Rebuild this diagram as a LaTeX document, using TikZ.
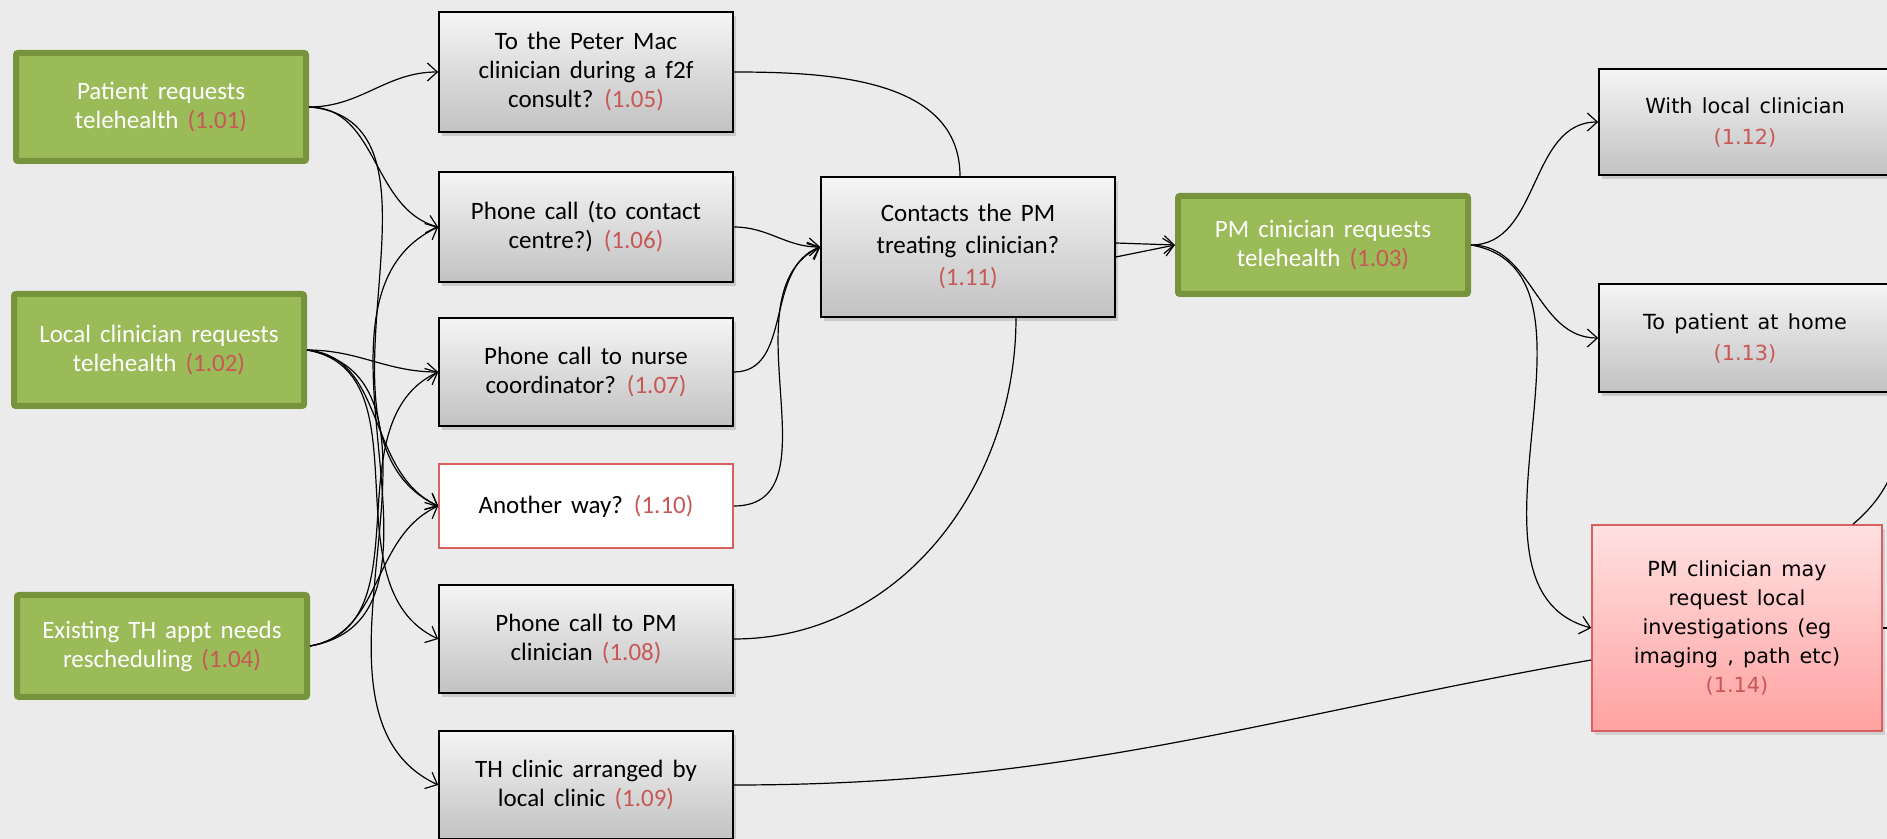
\documentclass[tikz,border=0pt]{standalone}
\usepackage{fontspec}
\setmainfont{Carlito}[WordSpace=1.6]
\newfontfamily\verdfont{DejaVu Sans}[WordSpace=1.4]
\usetikzlibrary{arrows.meta,shadows}

\definecolor{bggrey}{HTML}{EBEBEB}
\definecolor{thgreen}{HTML}{9BBB59}
\definecolor{thborder}{HTML}{77933C}
\definecolor{codered}{HTML}{C65856}
\definecolor{pinktop}{HTML}{FFE1E1}
\definecolor{pinkbot}{HTML}{FFA1A1}
\definecolor{pinkline}{HTML}{D9605E}

\newcommand{\refno}[1]{{\color{codered}#1}}

\tikzset{
	box/.style={rectangle, align=center, inner sep=2pt, font=\fontsize{12.5}{14.5}\selectfont},
	greenbox/.style={box, minimum width=145pt, fill=thgreen, draw=thborder, line width=3pt, text=white, rounded corners=1pt},
	greybox/.style={box, minimum width=147pt, draw=black, line width=0.8pt, top color=gray!8, bottom color=gray!48,
		drop shadow={shadow xshift=1.5pt, shadow yshift=-2pt, opacity=0.3}},
	whitebox/.style={box, minimum width=147pt, draw=pinkline, line width=0.8pt, fill=white},
	pinkbox/.style={box, minimum width=145pt, draw=pinkline, line width=0.8pt, top color=pinktop, bottom color=pinkbot,
		font=\verdfont\fontsize{10.4}{14.5}\selectfont, drop shadow={shadow xshift=1.5pt, shadow yshift=-2pt, opacity=0.25}},
	line/.style={draw=black, line width=0.6pt},
	conn/.style={line, -{Straight Barb[length=5pt,width=9pt]}}
}

\begin{document}
\begin{tikzpicture}[x=0.5pt, y=0.5pt]

		\fill[bggrey] (0,0) rectangle (1887,-839);
		\useasboundingbox (0,0) rectangle (1887,-839);

		\node[greenbox, minimum height=54pt] (n101) at (161,-107) {Patient requests\\telehealth \refno{(1.01)}};
		\node[greenbox, minimum height=56pt] (n102) at (159,-350) {Local clinician requests\\telehealth \refno{(1.02)}};
		\node[greenbox, minimum height=51pt] (n104) at (162,-646) {Existing TH appt needs\\rescheduling \refno{(1.04)}};

		\node[greybox, minimum height=60pt] (n105) at (586,-72) {To the Peter Mac\\clinician during a f2f\\consult? \refno{(1.05)}};
		\node[greybox, minimum height=55pt] (n106) at (586,-227) {Phone call (to contact\\centre?) \refno{(1.06)}};
		\node[greybox, minimum height=54pt] (n107) at (586,-372) {Phone call to nurse\\coordinator? \refno{(1.07)}};
		\node[whitebox, minimum height=42pt] (n110) at (586,-506) {Another way? \refno{(1.10)}};
		\node[greybox, minimum height=54pt] (n108) at (586,-639) {Phone call to PM\\clinician \refno{(1.08)}};
		\node[greybox, minimum height=54pt] (n109) at (586,-785) {TH clinic arranged by\\local clinic \refno{(1.09)}};

		\node[greybox, minimum height=70pt, font=\fontsize{12.5}{16}\selectfont] (n111) at (968,-247) {Contacts the PM\\treating clinician?\\\refno{(1.11)}};
		\node[greenbox, minimum height=49pt] (n103) at (1323,-245) {PM cinician requests\\telehealth \refno{(1.03)}};

		\node[greybox, minimum width=146pt, minimum height=53pt, font=\verdfont\fontsize{10.4}{15.5}\selectfont] (n112) at (1745,-122) {With local clinician\\\refno{(1.12)}};
		\node[greybox, minimum width=146pt, minimum height=54pt, font=\verdfont\fontsize{10.4}{15.5}\selectfont] (n113) at (1745,-338) {To patient at home\\\refno{(1.13)}};
		\node[pinkbox, minimum height=103pt] (n114) at (1737,-628) {PM clinician may\\request local\\investigations (eg\\imaging , path etc)\\\refno{(1.14)}};

		\coordinate (offr1) at (1910,-380);
		\coordinate (offr2) at (1910,-628);

		\draw[conn] (n101.east) to[out=0,in=180] (n105.west);
		\draw[conn] (n101.east) to[out=0,in=165] (n106.west);
		\draw[conn] (n101.east) to[out=-5,in=155] (n110.west);
		\draw[conn] (n102.east) to[out=0,in=180] (n107.west);
		\draw[conn] (n102.east) to[out=-5,in=155] (n110.west);
		\draw[conn] (n102.east) to[out=-10,in=155] (n108.west);
		\draw[conn] (n102.east) to[out=-10,in=155] (n109.west);
		\draw[conn] (n104.east) to[out=10,in=205] (n106.west);
		\draw[conn] (n104.east) to[out=10,in=205] (n107.west);
		\draw[conn] (n104.east) to[out=10,in=205] (n110.west);

		\draw[line] (n105.east) to[out=0,in=90] ([xshift=-4pt]n111.north);
		\draw[conn] (n106.east) to[out=0,in=180] (n111.west);
		\draw[conn] (n107.east) to[out=0,in=200] (n111.west);
		\draw[conn] (n110.east) to[out=0,in=205] (n111.west);
		\draw[line] (n108.east) to[out=0,in=-90] ([xshift=24pt]n111.south);

		\draw[conn] ([yshift=2pt]n111.east) -- (n103.west);
		\draw[conn] ([yshift=-5pt]n111.east) -- (n103.west);

		\draw[conn] (n103.east) to[out=0,in=180] (n112.west);
		\draw[conn] (n103.east) to[out=0,in=180] (n113.west);
		\draw[conn] (n103.east) to[out=-10,in=165] (n114.west);
		\draw[line] (n109.east) to[out=0,in=190] ([yshift=-16pt]n114.west);

		\draw[line] ([xshift=58pt]n114.north) to[out=40,in=-95] (offr1);
		\draw[line] (n114.east) -- (offr2);
	\end{tikzpicture}
\end{document}
